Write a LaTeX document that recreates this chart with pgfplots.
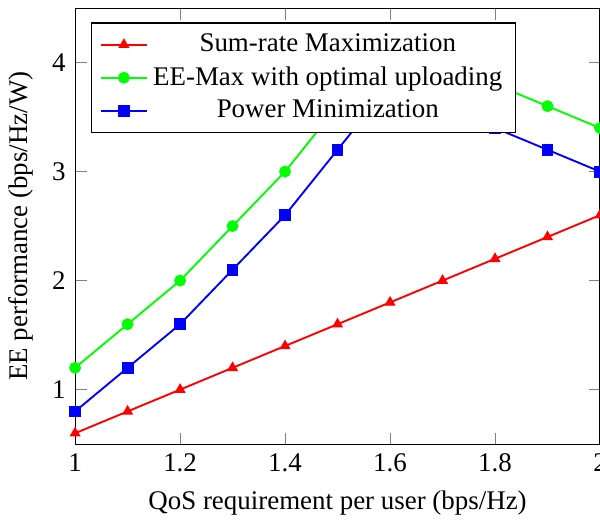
\documentclass[border=0pt]{standalone}
\usepackage{fontspec}
\setmainfont{Liberation Serif}
\usepackage{pgfplots}
\pgfplotsset{compat=1.18}
\begin{document}
\begin{tikzpicture}[trim axis right]
\begin{axis}[
  scale only axis,
  width=195pt, height=162pt,
  xmin=1, xmax=2, ymin=0.5, ymax=4.5,
  xtick={1,1.2,1.4,1.6,1.8,2},
  xticklabels={1,1.2,1.4,1.6,1.8,2},
  ytick={1,2,3,4},
  /pgf/number format/assume math mode=true,
  xlabel={QoS requirement per user (bps/Hz)},
  ylabel={EE performance (bps/Hz/W)},
  legend cell align=center,
  legend style={at={(0.031,0.967)}, anchor=north west, font=\normalsize},
  every axis plot/.append style={line width=0.7pt},
]
\addplot[red, mark=triangle*, mark options={line width=0.4pt}] coordinates {
(1,0.6) (1.1,0.8) (1.2,1.0) (1.3,1.2) (1.4,1.4) (1.5,1.6) (1.6,1.8) (1.7,2.0) (1.8,2.2) (1.9,2.4) (2,2.6)};
\addlegendentry{Sum-rate Maximization}
\addplot[green, mark=*, mark options={line width=0.4pt}] coordinates {
(1,1.2) (1.1,1.6) (1.2,2.0) (1.3,2.5) (1.4,3.0) (1.5,3.6) (1.6,4.0) (1.7,3.9) (1.8,3.8) (1.9,3.6) (2,3.4)};
\addlegendentry{EE-Max with optimal uploading}
\addplot[blue, mark=square*, mark options={line width=0.4pt}] coordinates {
(1,0.8) (1.1,1.2) (1.2,1.6) (1.3,2.1) (1.4,2.6) (1.5,3.2) (1.6,3.8) (1.7,3.6) (1.8,3.4) (1.9,3.2) (2,3.0)};
\addlegendentry{Power Minimization}
\end{axis}
\path (current axis.north west) ++(0,3pt) coordinate (topextra);
\end{tikzpicture}
\end{document}
